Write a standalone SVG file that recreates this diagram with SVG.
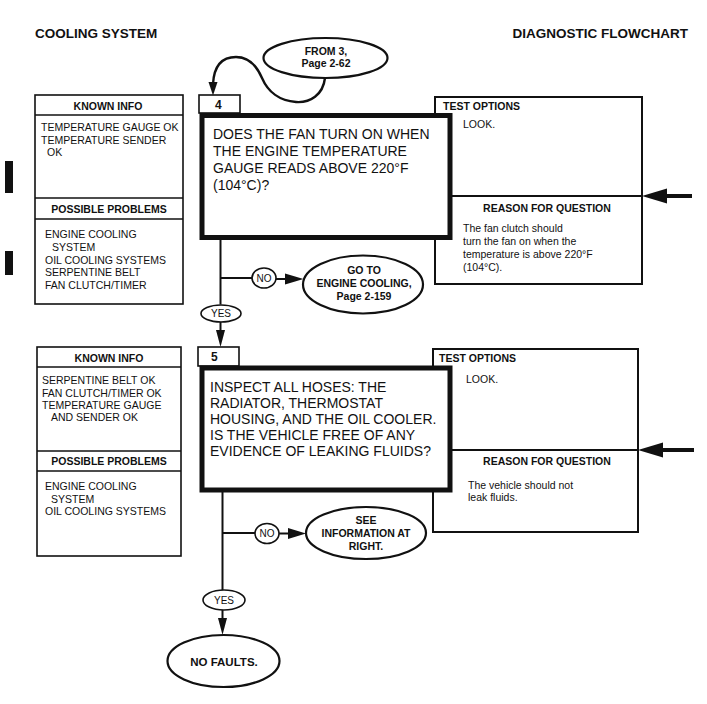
<svg xmlns="http://www.w3.org/2000/svg" width="707" height="704" viewBox="0 0 707 704">
<style>
text{font-family:"Liberation Sans",Arial,sans-serif;fill:#111}
.hd{font-size:13.5px;font-weight:bold}
.bh{font-size:10.5px;font-weight:bold}
.tx{font-size:10.5px}
.q{font-size:14px}
.num{font-size:12px;font-weight:bold}
.lbl{font-size:10px}
.box{fill:#fff;stroke:#111;stroke-width:1.6}
.thick{fill:#fff;stroke:#111;stroke-width:5}
.opt{fill:#fff;stroke:#111;stroke-width:2}
.ell{fill:#fff;stroke:#111;stroke-width:2.2}
.sm{fill:#fff;stroke:#111;stroke-width:1.6}
.ln{fill:none;stroke:#111;stroke-width:2}
.ah{fill:#111;stroke:none}
.mid{text-anchor:middle}
</style>

<text class="hd" x="35" y="38">COOLING SYSTEM</text>
<text class="hd" x="688" y="38" text-anchor="end">DIAGNOSTIC FLOWCHART</text>

<rect x="5" y="161" width="8" height="32" fill="#111"/>
<rect x="5" y="251" width="8" height="24" fill="#111"/>

<!-- Block 4 -->
<g id="known4">
<rect class="box" x="35" y="95" width="148" height="209"/>
<line class="ln" style="stroke-width:1.6" x1="35" y1="115" x2="183" y2="115"/>
<line class="ln" style="stroke-width:1.6" x1="35" y1="198" x2="183" y2="198"/>
<line class="ln" style="stroke-width:1.6" x1="35" y1="219" x2="183" y2="219"/>
<text class="bh mid" x="108" y="110">KNOWN INFO</text>
<text class="tx" x="41" y="131">TEMPERATURE GAUGE OK</text>
<text class="tx" x="41" y="143.5">TEMPERATURE SENDER</text>
<text class="tx" x="47" y="156">OK</text>
<text class="bh mid" x="109" y="213">POSSIBLE PROBLEMS</text>
<text class="tx" x="45" y="238">ENGINE COOLING</text>
<text class="tx" x="52" y="251">SYSTEM</text>
<text class="tx" x="45" y="263.5">OIL COOLING SYSTEMS</text>
<text class="tx" x="45" y="276">SERPENTINE BELT</text>
<text class="tx" x="45" y="288.5">FAN CLUTCH/TIMER</text>
</g>

<g id="options4">
<rect class="opt" x="435" y="97" width="207" height="187"/>
<line class="ln" x1="435" y1="196" x2="642" y2="196"/>
<text class="bh" x="443" y="110">TEST OPTIONS</text>
<text class="tx" x="463" y="128">LOOK.</text>
<text class="bh mid" x="547" y="212">REASON FOR QUESTION</text>
<text class="tx" x="463" y="232">The fan clutch should</text>
<text class="tx" x="463" y="245">turn the fan on when the</text>
<text class="tx" x="463" y="258">temperature is above 220°F</text>
<text class="tx" x="463" y="271">(104°C).</text>
</g>

<g id="step4">
<rect class="box" x="199" y="95" width="41" height="18"/>
<text class="num" x="215" y="109">4</text>
<rect class="thick" x="202" y="115.5" width="248" height="122"/>
<text class="q" x="213" y="139">DOES THE FAN TURN ON WHEN</text>
<text class="q" x="213" y="156">THE ENGINE TEMPERATURE</text>
<text class="q" x="213" y="173">GAUGE READS ABOVE 220°F</text>
<text class="q" x="213" y="190">(104°C)?</text>
</g>

<g id="from3">
<ellipse class="ell" cx="325.5" cy="58" rx="62" ry="20"/>
<text class="bh mid" x="326" y="55">FROM 3,</text>
<text class="bh mid" x="326" y="67">Page 2-62</text>
</g>

<g id="goto">
<ellipse class="ell" cx="363" cy="284.5" rx="60" ry="29"/>
<text class="bh mid" x="364" y="274">GO TO</text>
<text class="bh mid" x="364" y="287">ENGINE COOLING,</text>
<text class="bh mid" x="364" y="300">Page 2-159</text>
</g>

<!-- Block 5 -->
<g id="known5">
<rect class="box" x="37" y="347" width="144" height="209"/>
<line class="ln" style="stroke-width:1.6" x1="37" y1="367" x2="181" y2="367"/>
<line class="ln" style="stroke-width:1.6" x1="37" y1="451" x2="181" y2="451"/>
<line class="ln" style="stroke-width:1.6" x1="37" y1="471" x2="181" y2="471"/>
<text class="bh mid" x="109" y="362">KNOWN INFO</text>
<text class="tx" x="42" y="384">SERPENTINE BELT OK</text>
<text class="tx" x="42" y="396.5">FAN CLUTCH/TIMER OK</text>
<text class="tx" x="42" y="409">TEMPERATURE GAUGE</text>
<text class="tx" x="51" y="421">AND SENDER OK</text>
<text class="bh mid" x="109" y="465">POSSIBLE PROBLEMS</text>
<text class="tx" x="45" y="490">ENGINE COOLING</text>
<text class="tx" x="51" y="502.5">SYSTEM</text>
<text class="tx" x="45" y="515">OIL COOLING SYSTEMS</text>
</g>

<g id="options5">
<rect class="opt" x="433" y="349" width="205" height="183"/>
<line class="ln" x1="433" y1="450" x2="638" y2="450"/>
<text class="bh" x="439" y="362">TEST OPTIONS</text>
<text class="tx" x="466" y="383">LOOK.</text>
<text class="bh mid" x="547" y="465">REASON FOR QUESTION</text>
<text class="tx" x="468" y="489">The vehicle should not</text>
<text class="tx" x="468" y="501">leak fluids.</text>
</g>

<g id="step5">
<rect class="box" x="198" y="347" width="41" height="19"/>
<text class="num" x="211" y="361">5</text>
<rect class="thick" x="202" y="368" width="248" height="122"/>
<text class="q" x="210" y="392">INSPECT ALL HOSES: THE</text>
<text class="q" x="210" y="408">RADIATOR, THERMOSTAT</text>
<text class="q" x="210" y="424">HOUSING, AND THE OIL COOLER.</text>
<text class="q" x="210" y="440">IS THE VEHICLE FREE OF ANY</text>
<text class="q" x="210" y="456">EVIDENCE OF LEAKING FLUIDS?</text>
</g>

<g id="see">
<ellipse class="ell" cx="366" cy="533" rx="60" ry="26"/>
<text class="bh mid" x="366" y="524">SEE</text>
<text class="bh mid" x="366" y="537">INFORMATION AT</text>
<text class="bh mid" x="366" y="550">RIGHT.</text>
</g>

<g id="nofaults">
<ellipse class="ell" cx="223.5" cy="661" rx="56" ry="26"/>
<text class="mid" x="224" y="666" style="font-size:11.5px;font-weight:bold">NO FAULTS.</text>
</g>

<g id="connectors">
<!-- from 3 to step 4 -->
<path class="ln" style="stroke-width:2.4" d="M325,78 C323,95 310,103 296,102 C280,101 268,92 262,78 C256,64 248,57 236,57 C222,57 214,66 213,84"/>
<polygon class="ah" points="208.5,82 217.5,82 213,95.5"/>

<!-- step 4 outputs -->
<line class="ln" x1="220.5" y1="240" x2="220.5" y2="304.5"/>
<line class="ln" x1="220.5" y1="278" x2="252" y2="278"/>
<ellipse class="sm" cx="264" cy="278" rx="12" ry="10"/>
<text class="lbl mid" x="264" y="281.5">NO</text>
<line class="ln" x1="276" y1="279" x2="290" y2="279"/>
<polygon class="ah" points="285,273.5 303.5,279 285,284.5"/>
<ellipse class="sm" cx="221" cy="313.5" rx="20" ry="8.5"/>
<text class="lbl mid" x="221" y="317">YES</text>
<line class="ln" x1="220.5" y1="322" x2="220.5" y2="334"/>
<polygon class="ah" points="216,330 225,330 220.5,347"/>

<!-- step 5 outputs -->
<line class="ln" x1="222.5" y1="492" x2="222.5" y2="590"/>
<line class="ln" x1="222.5" y1="533" x2="255" y2="533"/>
<ellipse class="sm" cx="267" cy="533.5" rx="12" ry="10"/>
<text class="lbl mid" x="267" y="537">NO</text>
<line class="ln" x1="279" y1="533.5" x2="292" y2="533.5"/>
<polygon class="ah" points="288,528 306,533.5 288,539"/>
<ellipse class="sm" cx="224" cy="600" rx="21" ry="10"/>
<text class="lbl mid" x="224" y="603.5">YES</text>
<line class="ln" x1="222.5" y1="610" x2="222.5" y2="620"/>
<polygon class="ah" points="218,618 227,618 222.5,635"/>

<!-- right side incoming arrows -->
<line class="ln" style="stroke-width:4" x1="664" y1="196" x2="692" y2="196"/>
<polygon class="ah" points="642,196 667,188.5 667,203.5"/>
<line class="ln" style="stroke-width:4" x1="660" y1="450" x2="694" y2="450"/>
<polygon class="ah" points="638,450 663,442.5 663,457.5"/>
</g>
</svg>
